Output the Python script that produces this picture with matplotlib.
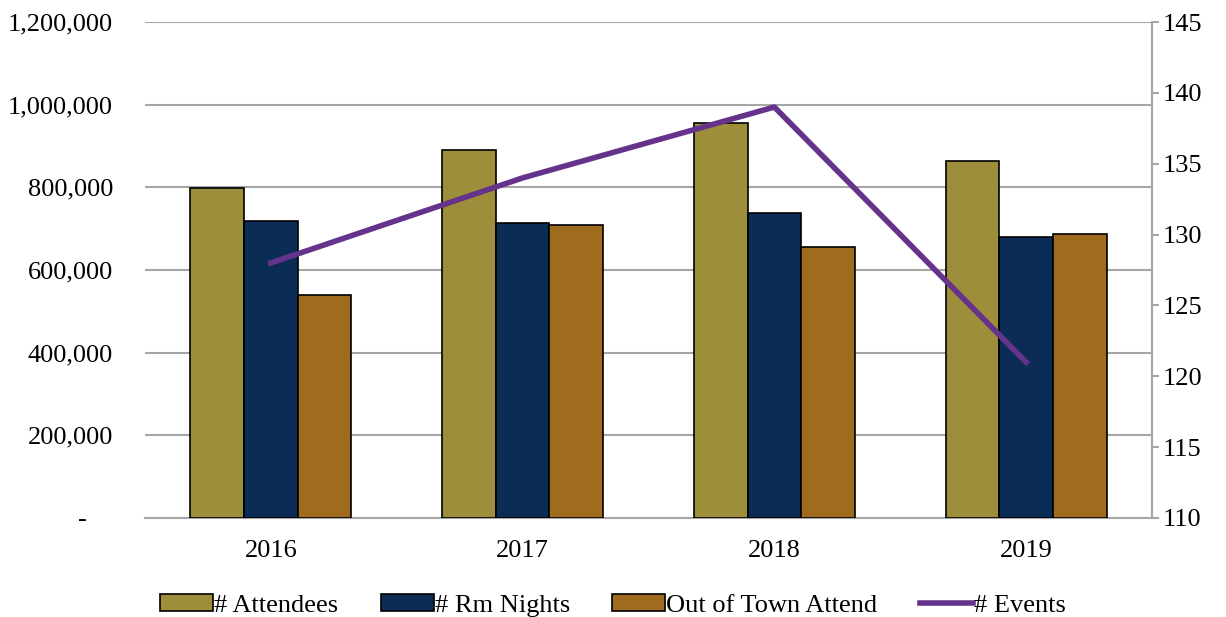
import matplotlib.pyplot as plt
import matplotlib.ticker as mticker
import numpy as np

years = ['2016', '2017', '2018', '2019']
attendees = [798000, 890000, 956000, 864000]
rm_nights = [718000, 714000, 738000, 680000]
out_of_town = [540000, 709000, 656000, 687000]
events = [128, 134, 139, 121]

C_ATT = '#9C8E3A'
C_RM = '#0B2D55'
C_OOT = '#9E6B1F'
C_EV = '#66338C'
GRID = '#A6A6A6'


def main():
    plt.rcParams['font.family'] = ['Liberation Serif', 'DejaVu Serif']
    fig = plt.figure(figsize=(12.26, 6.17), dpi=100)
    ax = fig.add_axes([0.1183, 0.1605, 0.8213, 0.8038])

    x = np.arange(len(years))
    w = 0.213
    b1 = ax.bar(x - w, attendees, w, color=C_ATT, edgecolor='black', linewidth=1.2, zorder=3, label='# Attendees')
    b2 = ax.bar(x, rm_nights, w, color=C_RM, edgecolor='black', linewidth=1.2, zorder=3, label='# Rm Nights')
    b3 = ax.bar(x + w, out_of_town, w, color=C_OOT, edgecolor='black', linewidth=1.2, zorder=3, label='Out of Town Attend')

    ax.set_xlim(-0.5, 3.5)
    ax.set_ylim(0, 1200000)
    ax.set_yticks(np.arange(0, 1200001, 200000))
    ax.yaxis.set_major_formatter(mticker.FuncFormatter(lambda v, p: '-    ' if v == 0 else f'{int(v):,}'))
    ax.set_xticks(x)
    ax.set_xticklabels(years)
    ax.grid(axis='y', color=GRID, linewidth=1.5, zorder=0)
    for s in ['top', 'left', 'right']:
        ax.spines[s].set_visible(False)
    ax.spines['bottom'].set_color(GRID)
    ax.spines['bottom'].set_linewidth(1.5)
    ax.tick_params(axis='x', length=0, labelsize=19, pad=16)
    ax.tick_params(axis='y', length=0, labelsize=19, pad=23)

    ax2 = ax.twinx()
    line, = ax2.plot(x, events, color=C_EV, linewidth=4, zorder=5, label='# Events')
    ax2.set_ylim(110, 145)
    ax2.set_yticks(np.arange(110, 146, 5))
    for s in ['top', 'left', 'bottom']:
        ax2.spines[s].set_visible(False)
    ax2.spines['right'].set_color(GRID)
    ax2.spines['right'].set_linewidth(1.5)
    ax2.tick_params(axis='y', length=5, width=1.5, color=GRID, labelsize=19, pad=3)

    fig.legend(handles=[b1, b2, b3, line], loc='lower center', ncol=4, frameon=False,
               fontsize=19, bbox_to_anchor=(0.5, -0.038), handlelength=2.0,
               handleheight=0.6, handletextpad=0.05, columnspacing=1.6)

    fig.savefig('out.png', dpi=100)


if __name__ == '__main__':
    main()
